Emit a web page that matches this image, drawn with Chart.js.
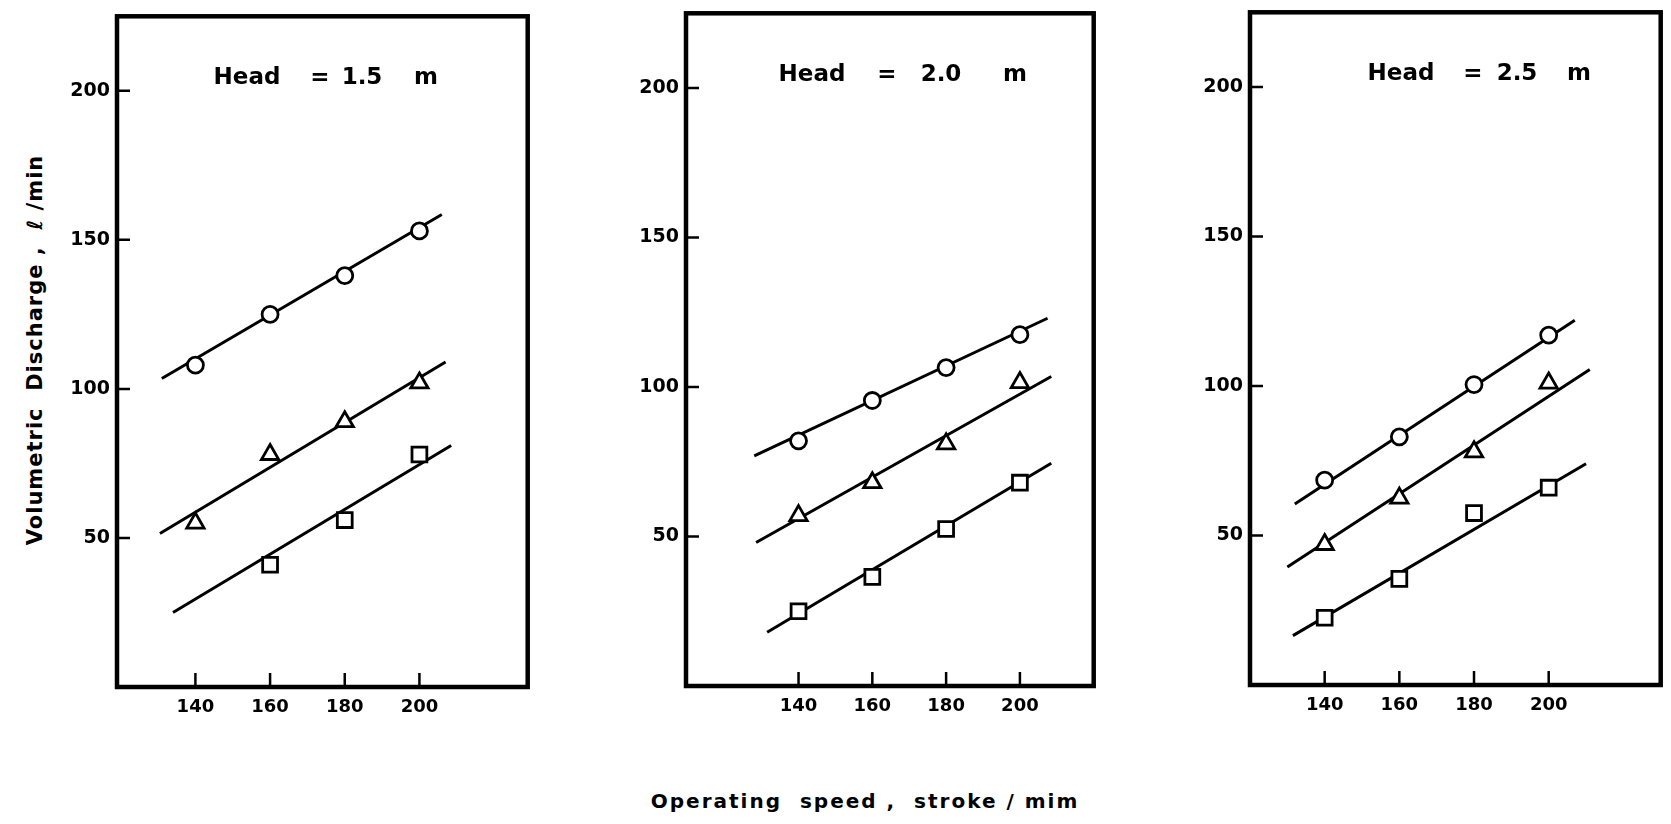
<!DOCTYPE html>
<html>
<head>
<meta charset="utf-8">
<script src="https://cdn.jsdelivr.net/npm/chart.js@4.4.1/dist/chart.umd.min.js"></script>
<style>
  html, body { margin: 0; padding: 0; background: #fff; }
  body { width: 1671px; height: 824px; overflow: hidden; position: relative; font-family: "DejaVu Sans", sans-serif; color: #000; }
  canvas { position: absolute; }
  #ytitle { position: absolute; left: 35px; top: 350px; transform: translate(-50%, -50%) rotate(-90deg); white-space: pre; font-size: 21px; font-weight: bold; letter-spacing: 1px; }
  #xtitle { position: absolute; left: 865px; top: 801px; transform: translate(-50%, -50%); white-space: pre; font-size: 20px; font-weight: bold; letter-spacing: 2px; }
</style>
</head>
<body>
<div id="ytitle">Volumetric  Discharge ,  ℓ /min</div>
<div id="xtitle">Operating  speed ,  stroke / mim</div>
<script>
// operating speed (stroke/min) where the points were measured
const speeds = [140, 160, 180, 200];
const speedTicks = [140, 160, 180, 200];
const dischargeTicks = [50, 100, 150, 200];
const heads = ["1.5", "2.0", "2.5"];

// volumetric discharge (l/min)
const circle15 = [108, 125, 138, 153];
const triangle15 = [55, 78, 89, 102];
const square15 = [null, 41, 56, 78];

const circle20 = [82, 95.5, 106.5, 117.5];
const triangle20 = [57, 68, 81, 101.5];
const square20 = [25, 36.5, 52.5, 68];

const circle25 = [68.5, 83, 100.5, 117];
const triangle25 = [47, 62.5, 78, 101];
const square25 = [22.5, 35.5, 57.5, 66];

// fitted straight lines: [start, end] speed and discharge, order circle / triangle / square
const fitSpeeds15 = [[131, 206], [130.5, 207], [134, 208.5]];
const fitValues15 = [[103.5, 158.5], [51.5, 109], [25, 81]];
const fitSpeeds20 = [[128, 207.5], [128.5, 208.5], [131.5, 208.5]];
const fitValues20 = [[77, 123], [48, 103.5], [18, 74.5]];
const fitSpeeds25 = [[132, 207], [130, 211], [131.5, 210]];
const fitValues25 = [[60.5, 122], [39.5, 105.5], [16.5, 74]];

// axis ranges of each panel
const speedMin = [119, 109.5, 120];
const speedMax = [229, 220, 230];
const dischargeMin = 0;
const dischargeMax = 225;

const panels = [
  { head: heads[0], circle: circle15, triangle: triangle15, square: square15, fitX: fitSpeeds15, fitY: fitValues15,
    frame: { left: 117, top: 11, width: 416, height: 676 }, title: [130, 203, 245, 309] },
  { head: heads[1], circle: circle20, triangle: triangle20, square: square20, fitX: fitSpeeds20, fitY: fitValues20,
    frame: { left: 686, top: 8, width: 413, height: 678 }, title: [126, 201, 255, 329] },
  { head: heads[2], circle: circle25, triangle: triangle25, square: square25, fitX: fitSpeeds25, fitY: fitValues25,
    frame: { left: 1250, top: 7, width: 416, height: 678 }, title: [151, 223, 267, 329] },
];

const FONT = '"DejaVu Sans", sans-serif';
const Y_AXIS_W = 62;
const X_AXIS_H = 44;
const PAD = 8;

const framePlugin = {
  id: 'frame',
  afterDatasetsDraw(chart) {
    const { ctx, chartArea: a, scales: { x, y } } = chart;
    const p = chart.options.plugins.frame;
    ctx.save();
    ctx.strokeStyle = '#000';
    ctx.lineCap = 'butt';
    ctx.lineWidth = 2.5;
    ctx.beginPath();
    speedTicks.forEach(v => {
      const px = x.getPixelForValue(v);
      ctx.moveTo(px, a.bottom);
      ctx.lineTo(px, a.bottom - 14);
    });
    dischargeTicks.forEach(v => {
      const py = y.getPixelForValue(v);
      ctx.moveTo(a.left, py);
      ctx.lineTo(a.left + 13, py);
    });
    ctx.stroke();
    ctx.lineWidth = 4.5;
    ctx.lineJoin = 'miter';
    ctx.strokeRect(a.left, a.top, a.right - a.left, a.bottom - a.top);

    // "Head = x m" written inside the frame
    ctx.fillStyle = '#000';
    ctx.font = 'bold 23px ' + FONT;
    ctx.textBaseline = 'middle';
    ctx.textAlign = 'center';
    const parts = ['Head', '=', p.head, 'm'];
    parts.forEach((t, i) => ctx.fillText(t, a.left + p.offsets[i], a.top + 62));
    ctx.restore();
  }
};

function pointsOf(values) {
  return speeds.map((s, i) => values[i] == null ? null : { x: s, y: values[i] }).filter(Boolean);
}

function makeChart(p, idx) {
  const canvas = document.createElement('canvas');
  const w = Y_AXIS_W + p.frame.width + PAD;
  const h = PAD + p.frame.height + X_AXIS_H;
  canvas.width = w;
  canvas.height = h;
  canvas.style.left = (p.frame.left - Y_AXIS_W) + 'px';
  canvas.style.top = (p.frame.top - PAD) + 'px';
  canvas.style.width = w + 'px';
  canvas.style.height = h + 'px';
  document.body.appendChild(canvas);

  const markerSets = [
    { values: p.circle, style: 'circle', radius: 8 },
    { values: p.triangle, style: 'triangle', radius: 10 },
    { values: p.square, style: 'rect', radius: 10.5 },
  ];
  const datasets = [];
  markerSets.forEach((m, i) => {
    datasets.push({
      data: pointsOf(m.values),
      showLine: false,
      pointStyle: m.style,
      pointRadius: m.radius,
      pointHoverRadius: m.radius,
      pointBorderWidth: 2.8,
      pointBorderColor: '#000',
      pointBackgroundColor: '#fff',
      order: 0,
    });
    datasets.push({
      data: [{ x: p.fitX[i][0], y: p.fitY[i][0] }, { x: p.fitX[i][1], y: p.fitY[i][1] }],
      showLine: true,
      borderColor: '#000',
      borderWidth: 3,
      pointRadius: 0,
      order: 1,
    });
  });

  return new Chart(canvas, {
    type: 'scatter',
    data: { datasets },
    options: {
      responsive: false,
      animation: false,
      devicePixelRatio: 1,
      layout: { padding: { top: PAD, right: PAD, left: 0, bottom: 0 } },
      plugins: {
        legend: { display: false },
        tooltip: { enabled: false },
        frame: { head: p.head, offsets: p.title },
      },
      scales: {
        x: {
          type: 'linear',
          min: speedMin[idx],
          max: speedMax[idx],
          afterBuildTicks: s => { s.ticks = speedTicks.map(v => ({ value: v })); },
          afterFit: s => { s.height = X_AXIS_H; s.paddingLeft = 0; s.paddingRight = 0; },
          grid: { display: false, drawTicks: false },
          border: { display: false },
          ticks: { color: '#000', font: { family: FONT, size: 18, weight: 'bold' }, padding: 10, maxRotation: 0, autoSkip: false },
        },
        y: {
          type: 'linear',
          min: dischargeMin,
          max: dischargeMax,
          afterBuildTicks: s => { s.ticks = dischargeTicks.map(v => ({ value: v })); },
          afterFit: s => { s.width = Y_AXIS_W; s.paddingTop = 0; s.paddingBottom = 0; },
          grid: { display: false, drawTicks: false },
          border: { display: false },
          ticks: { color: '#000', font: { family: FONT, size: 19, weight: 'bold' }, padding: 7, autoSkip: false },
        },
      },
    },
    plugins: [framePlugin],
  });
}

panels.forEach((p, i) => makeChart(p, i));
</script>
</body>
</html>
